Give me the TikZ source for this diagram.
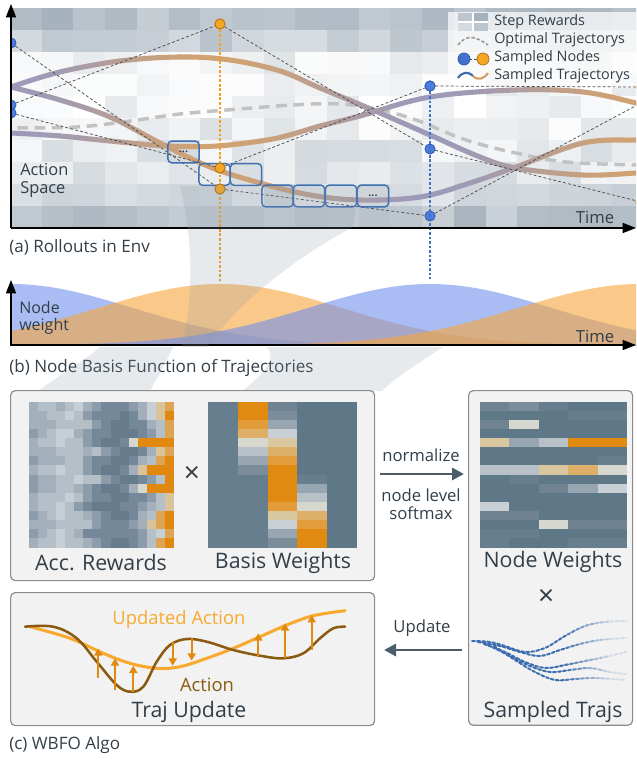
\documentclass[tikz,border=0pt]{standalone}
\usepackage{fontspec}
\setmainfont{Open Sans}
\usetikzlibrary{arrows.meta}

\definecolor{txt}{HTML}{323E48}
\definecolor{hmbase}{HTML}{8898A6}
\definecolor{purp}{HTML}{9C9AB9}
\definecolor{tanc}{HTML}{D0A273}
\definecolor{optgray}{HTML}{C2C2C2}
\definecolor{nblue}{HTML}{4D7DE0}
\definecolor{nblueD}{HTML}{2C58B0}
\definecolor{norange}{HTML}{F6A625}
\definecolor{norangeD}{HTML}{B47418}
\definecolor{boxblue}{HTML}{3E70B2}
\definecolor{dotorange}{HTML}{F5A020}
\definecolor{dotblue}{HTML}{3F72C2}
\definecolor{bumpblue}{RGB}{112,145,237}
\definecolor{bumporange}{RGB}{247,165,60}
\definecolor{panelbg}{HTML}{F2F2F2}
\definecolor{panelline}{HTML}{8C8C8C}
\definecolor{arrowc}{HTML}{4A5E6A}
\definecolor{actbrown}{HTML}{8B5A10}
\definecolor{updorange}{HTML}{F8AA30}
\definecolor{arrorange}{HTML}{E08A0E}
\definecolor{trajblue}{HTML}{3C6DAF}
% accumulated-reward palette
\definecolor{ar0}{HTML}{C6CFD6}
\definecolor{ar1}{HTML}{B4BFC8}
\definecolor{ar2}{HTML}{A3B0BB}
\definecolor{ar3}{HTML}{8C9CAA}
\definecolor{ar4}{HTML}{758899}
\definecolor{ar5}{HTML}{667C8C}
\definecolor{ar6}{HTML}{D5D8CF}
\definecolor{ar7}{HTML}{D8C39A}
\definecolor{ar8}{HTML}{DDA553}
\definecolor{ar9}{HTML}{E0880F}
% weight palette
\definecolor{ks0}{HTML}{5F7888}
\definecolor{ks1}{HTML}{667E8E}
\definecolor{ks2}{HTML}{6F8393}
\definecolor{kg1}{HTML}{7B8C9B}
\definecolor{kg2}{HTML}{98A6B2}
\definecolor{kg3}{HTML}{B8C1C8}
\definecolor{kg4}{HTML}{C8CFD5}
\definecolor{kw}{HTML}{D6D8D0}
\definecolor{kb}{HTML}{D9C7A0}
\definecolor{klo}{HTML}{DEAF68}
\definecolor{kmo}{HTML}{E29C3C}
\definecolor{ko}{HTML}{E08A12}

\tikzset{
  conn/.style={draw=black!70, line width=0.55pt, dash pattern=on 2.2pt off 1.6pt},
  bnode/.style={circle, inner sep=0pt, minimum size=7.6pt, fill=nblue, draw=nblueD, line width=0.6pt},
  onode/.style={circle, inner sep=0pt, minimum size=7.6pt, fill=norange, draw=norangeD, line width=0.6pt},
  cellbox/.style={draw=boxblue, line width=1.1pt, rounded corners=3pt, minimum width=23.4pt,
    minimum height=16.4pt, inner sep=0pt, text=txt, font=\fontsize{8}{8}\selectfont},
  trajline/.style={line width=3.8pt},
  optimal/.style={draw=optgray, line width=2.6pt, dash pattern=on 8pt off 5pt},
  panel/.style={fill=panelbg, draw=panelline, line width=0.9pt, rounded corners=3.5pt},
  axis/.style={draw=black, line width=1.1pt, -{Triangle[length=10pt,width=7.5pt]}},
  flowarrow/.style={draw=arrowc, line width=2.2pt, -{Triangle[length=9pt,width=9pt]}},
  capt/.style={text=txt, inner sep=0pt, anchor=west, font=\fontsize{12.8}{15}\selectfont},
  lblbig/.style={text=txt, inner sep=0pt, font=\fontsize{16}{18}\selectfont},
  lblsm/.style={text=txt, inner sep=0pt, font=\fontsize{12.5}{13.5}\selectfont},
  legtxt/.style={text=txt, inner sep=0pt, anchor=west, font=\fontsize{10.8}{12}\selectfont},
  upd/.style={draw=arrorange, line width=1.6pt, -{Triangle[length=5.5pt,width=6pt]}},
  sdash/.style={line width=1.5pt, dash pattern=on 2.2pt off 1.6pt, line cap=round},
  beam/.style={fill=hmbase, fill opacity=0.2},
}

% smooth sampled trajectories of the environment rollouts
\newcommand\wbTrajA[1]{\draw[#1] plot[smooth, tension=0.6] coordinates {(0,92) (11,87) (60,72) (120,61) (180,57) (230,60) (280,71) (320,88) (373,110) (430,135) (480,157) (516,168) (583,175) (636,173) (650,172)};}
\newcommand\wbTrajB[1]{\draw[#1] plot[smooth, tension=0.6] coordinates {(0,84) (11,87) (60,100) (110,117) (160,143) (210,167) (260,183) (310,195) (360,200) (420,197) (470,183) (516,167) (583,143) (636,140) (650,140)};}
\newcommand\wbTrajC[1]{\draw[#1] plot[smooth, tension=0.6] coordinates {(0,133) (11,133) (60,136) (110,141) (167,146) (217,146) (267,140) (293,134) (320,126) (360,116) (430,97) (516,90) (583,92) (636,103) (650,107)};}
% sampled trajectories in the algorithm box
\newcommand\wbSamples[1]{%
  \draw[#1] plot[smooth, tension=0.6] coordinates {(472,641) (490,642) (505,646) (525,652) (545,648) (565,636) (585,626) (605,622) (626,621)};
  \draw[#1] plot[smooth, tension=0.6] coordinates {(478,642) (500,646) (520,652) (540,656) (560,650) (580,644) (600,640) (626,638)};
  \draw[#1] plot[smooth, tension=0.6] coordinates {(484,644) (505,652) (525,662) (545,668) (565,665) (585,661) (605,657) (626,652)};
  \draw[#1] plot[smooth, tension=0.6] coordinates {(488,645) (510,656) (530,666) (550,672) (570,670) (590,668) (610,672) (626,674)};
  \draw[#1] plot[smooth, tension=0.6] coordinates {(494,646) (515,660) (535,672) (555,680) (575,679) (595,678) (626,680)};}

\begin{document}
\begin{tikzpicture}[x=0.75pt, y=-0.75pt]
\useasboundingbox (0,0) rectangle (636,762);

% ---------------- (a) rollouts in the environment ----------------
\begin{scope}
\clip (11,8) rectangle (636,228);
\pgfmathsetseed{11}
\foreach \m [count=\r from 0] in {62,46,16,10,12,16,22,26,34,58} {
  \foreach \c in {0,...,19} {
    \pgfmathsetmacro\p{max(0,min(85,\m+28*(rnd-0.5)))}
    \fill[hmbase!\p!white] ({10+31.7*\c},{8+22*\r}) rectangle ++(32.3,22.6);
  }
}
% legend backdrop
\fill[white, fill opacity=0.72] (448,12) rectangle (636,88);
% optimal trajectory
\draw[optimal] plot[smooth, tension=0.6] coordinates {(0,128) (11,128) (77,127) (130,121) (180,114) (227,110) (293,105) (340,104) (380,110) (416,120) (466,140) (516,153) (566,162) (636,165) (650,165)};
% sampled trajectories, tinted by time step
\foreach \i in {0,...,62} {
  \pgfmathsetmacro\xa{10+10*\i}
  \pgfmathsetmacro\t{50*(1-cos((\xa-6)/420*360))}
  \colorlet{stripc}{tanc!\t!purp}
  \begin{scope}
    \clip (\xa-0.4,0) rectangle (\xa+10.4,240);
    \wbTrajA{trajline, stripc}
    \wbTrajB{trajline, stripc}
    \wbTrajC{trajline, stripc}
  \end{scope}
}
% sampled nodes
\node[bnode] (b1) at (11,43) {};
\node[bnode] (b2) at (11,105) {};
\node[bnode] (b3) at (11,113) {};
\node[onode] (o1) at (220,24) {};
\node[onode] (o2) at (220,168) {};
\node[onode] (o3) at (220,189) {};
\node[bnode] (b4) at (430,86) {};
\node[bnode] (b5) at (430,149) {};
\node[bnode] (b6) at (430,216) {};
\node[onode] (o4) at (641,87) {};
\node[onode] (o5) at (641,103) {};
\node[onode] (o6) at (641,202) {};
% piecewise-linear paths through the nodes
\draw[conn] (b1) -- (o3) -- (b6) -- (o5);
\draw[conn] (b2) -- (o1) -- (b5) -- (o6);
\draw[conn] (b3) -- (o2) -- (b4) -- (o4);
% step cells along one rollout
\node[cellbox] (k1) at (183.5,152) {\raisebox{1pt}{\textbf{...}}};
\node[cellbox] (k2) at (214.5,174.5) {};
\node[cellbox] (k3) at (246,174.5) {};
\node[cellbox] (k4) at (277.5,196) {};
\node[cellbox] (k5) at (309,196) {};
\node[cellbox] (k6) at (341,196) {};
\node[cellbox] (k7) at (373,196) {\raisebox{1pt}{\textbf{...}}};
% legend
\fill[hmbase!55!white] (458,13) rectangle (473,22);
\fill[hmbase!75!white] (473,13) rectangle (488,22);
\fill[hmbase!35!white] (458,22) rectangle (473,31);
\fill[hmbase!55!white] (473,22) rectangle (488,31);
\draw[white, line width=0.8pt] (458,22) -- (488,22) (473,13) -- (473,31);
\draw[draw=black!40, line width=1.2pt, dash pattern=on 2.5pt off 1.5pt] (458,45) .. controls (466,35) and (474,35) .. (488,45);
\coordinate (lgA) at (464,59);
\coordinate (lgB) at (483,59);
\draw[conn, draw=black!70] (lgA) -- (lgB);
\node[bnode, minimum size=9pt, fill=nblue!90!black] (lgb) at (lgA) {};
\node[onode, minimum size=9pt] (lgo) at (lgB) {};
\draw[trajblue, line width=1.6pt] (458,78) .. controls (462,72) and (468,71) .. (473,76);
\draw[tanc!90!orange, line width=1.6pt] (473,76) .. controls (478,81) and (484,79) .. (488,73);
\node[legtxt] (lg1) at (494,22) {Step Rewards};
\node[legtxt] (lg2) at (494,40) {Optimal Trajectorys};
\node[legtxt] (lg3) at (494,58) {Sampled Nodes};
\node[legtxt] (lg4) at (494,76) {Sampled Trajectorys};
\end{scope}
\node[lblsm, anchor=west, font=\fontsize{12.3}{13.5}\selectfont] (aspace) at (20,181) {\begin{tabular}{@{}l@{}}Action\\Space\end{tabular}};
\node[lblsm] (atime) at (595,217) {Time};
% projections of the sampled nodes onto the basis functions
\coordinate (ob) at (220,281);
\coordinate (bb) at (430,279);
\draw[dotorange, line width=1.1pt, dash pattern=on 2pt off 1.4pt] (o1) -- (ob);
\draw[dotblue, line width=1.1pt, dash pattern=on 2pt off 1.4pt] (b4) -- (bb);
\node[onode] at (o1) {};
\node[onode] at (o2) {};
\node[onode] at (o3) {};
\node[bnode] at (b4) {};
\draw[axis] (11,228) -- (11,4);
\draw[axis] (11,228) -- (636,228);
\node[capt] (capa) at (9,247) {(a) Rollouts in Env};

% ---------------- (b) node basis functions ----------------
\begin{scope}
\clip (11,260) rectangle (636,345);
\foreach \cx/\col in {11/bumpblue, 220/bumporange, 430/bumpblue, 640/bumporange} {
  \fill[\col, fill opacity=0.6] plot[domain=0:636, samples=120] (\x,{345-61*exp(max(-9,-0.5*((\x-\cx)/122)^2))}) -- (636,346) -- (0,346) -- cycle;
}
\end{scope}
\draw[axis] (11,346) -- (11,280);
\draw[axis] (11,345) -- (636,345);
\node[lblsm, anchor=west, font=\fontsize{12}{12}\selectfont] (nw) at (19,318) {\begin{tabular}{@{}l@{}}Node\\weight\end{tabular}};
\node[lblsm] (btime) at (595,336) {Time};
\node[capt] (capb) at (9,368) {(b) Node Basis Function of Trajectories};

% light beams linking the panels
\fill[beam] (180,186) -- (360,186) .. controls (356,205) and (355,220) .. (353,227)
  .. controls (300,255) and (240,300) .. (207,347) -- (182,347)
  .. controls (192,300) and (195,250) .. (180,186) -- cycle;
\fill[beam] (100,347) -- (173,347) .. controls (165,365) and (156,380) .. (150,391) -- (38,391)
  .. controls (60,375) and (85,360) .. (100,347) -- cycle;
\fill[beam] (267,347) -- (443,347) .. controls (420,362) and (395,378) .. (382,391) -- (242,391)
  .. controls (262,375) and (278,360) .. (267,347) -- cycle;

% ---------------- (c) WBFO algorithm ----------------
\node[panel, minimum width=273pt, minimum height=142.5pt, anchor=north west] (boxw) at (10,390) {};
\node[panel, minimum width=123pt, minimum height=251pt, anchor=north west] (boxn) at (468,390) {};
\node[panel, minimum width=273pt, minimum height=99.75pt, anchor=north west] (boxt) at (10,592) {};

% accumulated rewards
\foreach \row [count=\r from 0] in {
 {2,1,1,2,1,0,2,3,4,4,4,3,2,0,7,8},{2,2,1,1,0,1,3,4,4,4,5,4,2,0,7,9},
 {2,2,2,1,1,1,1,3,4,5,5,4,4,2,1,8},{3,2,1,0,0,2,3,4,4,5,5,5,4,3,1,8},
 {2,1,1,0,1,1,3,4,5,5,4,6,9,9,9,9},{2,2,2,1,1,1,2,1,3,4,5,5,4,2,7,8},
 {3,2,2,2,1,1,3,4,4,5,5,4,2,1,8,9},{2,1,1,0,1,1,3,4,5,5,4,2,7,9,9,9},
 {3,2,2,1,1,0,1,1,3,4,5,5,4,3,1,9},{3,2,2,1,1,2,3,4,5,5,4,2,6,9,9,9},
 {2,1,1,1,0,1,3,4,4,5,5,4,4,3,1,7},{2,1,1,0,1,3,4,5,5,5,4,4,3,2,1,7},
 {3,2,1,0,1,1,2,3,4,5,5,4,2,1,8,9},{2,2,2,1,1,1,1,3,4,4,4,3,2,7,8,9},
 {3,2,1,0,1,2,4,4,4,4,4,4,3,1,0,8},{2,1,1,0,1,1,2,3,4,5,5,4,3,1,8,9}} {
  \foreach \v [count=\c from 0] in \row {
    \fill[ar\v] ({29+9.06*\c},{401.5+9.13*\r}) rectangle ++(9.45,9.5);
  }
}
% basis weights
\foreach \row [count=\r from 0] in {
 {ks1,ko,ks2,ks0,ks0},{ks1,ko,kg1,ks0,ks0},{ks1,kmo,kg2,ks0,ks0},{ks1,klo,kg4,ks0,ks0},
 {ks1,kw,kb,ks0,ks0},{ks1,kg3,klo,ks0,ks0},{ks1,kg2,kmo,ks0,ks0},{ks1,kg1,ko,ks0,ks0},
 {ks1,ks1,ko,ks1,ks0},{ks1,ks1,ko,kg2,ks0},{ks1,ks1,ko,kg3,ks0},{ks1,ks1,kmo,kw,ks0},
 {ks1,ks1,kb,klo,ks0},{ks1,ks1,kg4,kmo,ks0},{ks1,ks1,kg2,ko,ks0},{ks1,ks1,kg1,ko,ks0}} {
  \foreach \v [count=\c from 0] in \row {
    \fill[\v] ({208+29.8*\c},{401.5+9.13*\r}) rectangle ++(30.2,9.5);
  }
}
% node weights
\foreach \row [count=\r from 0] in {
 {ks2,kg1,ks1,ks0,ks0},{ks0,ks0,ks0,ks1,ks1},{ks2,kw,ks0,ks0,ks0},{ks0,ks0,ks0,ks0,ks0},
 {kb,kg2,kg3,ko,ko},{ks0,ks0,ks0,ks0,ks0},{ks0,ks0,ks0,ks0,ks1},{kg3,kg3,kb,klo,kw},
 {ks0,ks1,ks0,ks0,ks0},{ks0,ks0,ks2,kg2,kg4},{ks0,ks0,ks0,ks0,ks0},{kg4,ks0,ks0,ks0,ks0},
 {ks2,ks2,ks0,ks0,ks0},{ks0,ks0,kw,ks2,ks2},{ks1,ks1,ks0,ks0,ks0},{ks1,ks0,ks0,ks1,ks1}} {
  \foreach \v [count=\c from 0] in \row {
    \fill[\v] ({480+29.4*\c},{401.5+9.13*\r}) rectangle ++(29.8,9.5);
  }
}
\node[lblbig, font=\fontsize{21}{21}\selectfont] (x1) at (192,474) {×};
\node[lblbig] (accr) at (101,563) {Acc. Rewards};
\node[lblbig] (basw) at (283,563) {Basis Weights};
\node[lblbig] (nodw) at (553,562) {Node Weights};
\node[lblbig, font=\fontsize{21}{21}\selectfont] (x2) at (546,597) {×};
\node[lblbig] (smpt) at (553,712) {Sampled Trajs};
\node[lblbig] (trju) at (189,712) {Traj Update};

% normalise arrow
\coordinate (nA) at (380,474);
\coordinate (nB) at (464,474);
\draw[flowarrow] (nA) -- (nB);
\node[lblsm] (nm1) at (421,455) {normalize};
\node[lblsm, align=center] (nm2) at (421,504) {node level\\softmax};
% update arrow
\coordinate (uA) at (462,650);
\coordinate (uB) at (384,650);
\draw[flowarrow] (uA) -- (uB);
\node[lblsm] (up) at (422,628) {Update};

% sampled trajectories fading out to the right
\foreach \i in {0,...,9} {
  \pgfmathsetmacro\xa{560+7*\i}
  \pgfmathsetmacro\t{min(85,12*\i)}
  \colorlet{stripc}{panelbg!\t!trajblue}
  \begin{scope}
    \clip (\xa-0.3,600) rectangle (\xa+7.3,700);
    \wbSamples{sdash, stripc}
  \end{scope}
}
\begin{scope}
  \clip (460,600) rectangle (560,700);
  \wbSamples{sdash, trajblue}
\end{scope}

% trajectory update
\draw[updorange, line width=2.3pt, line cap=round] plot[smooth, tension=0.6] coordinates {(30,626.7) (70,638.3) (103.3,653.3) (130,663.3) (156.7,668.3) (180,666.7) (206.7,658.3) (233.3,648.3) (260,636.7) (286.7,625) (313.3,615.7) (345,610.7)};
\draw[actbrown, line width=1.9pt, line cap=round] plot[smooth, tension=0.6] coordinates {(25,626.7) (53.3,626.7) (76.7,638.3) (96.7,661.7) (116.7,685) (130,691.7) (143.3,686.7) (156.7,661.7) (170,645) (186.7,639) (206.7,641.7) (233.3,650) (260,655.7) (283.3,658.3) (303.3,653.3) (320,638.3) (333.3,628.3) (345,626.7)};
\foreach \ux/\ya/\yb in {98.3/678.3/648.3, 115/690/658.3, 133.3/691.7/665.7, 172.7/641.7/665.7, 191.7/638.3/660.7, 258.3/655.7/633.3, 285/658.3/623.3, 311.7/650/615} {
  \draw[upd] (\ux,\ya) -- (\ux,\yb);
}
\node[text=updorange, inner sep=0pt, font=\fontsize{13.8}{15}\selectfont] (ua) at (179,620) {Updated Action};
\node[text=actbrown, inner sep=0pt, font=\fontsize{13.8}{15}\selectfont] (aa) at (207,685) {Action};
\node[capt] (capc) at (9,745) {(c) WBFO Algo};
\end{tikzpicture}
\end{document}
